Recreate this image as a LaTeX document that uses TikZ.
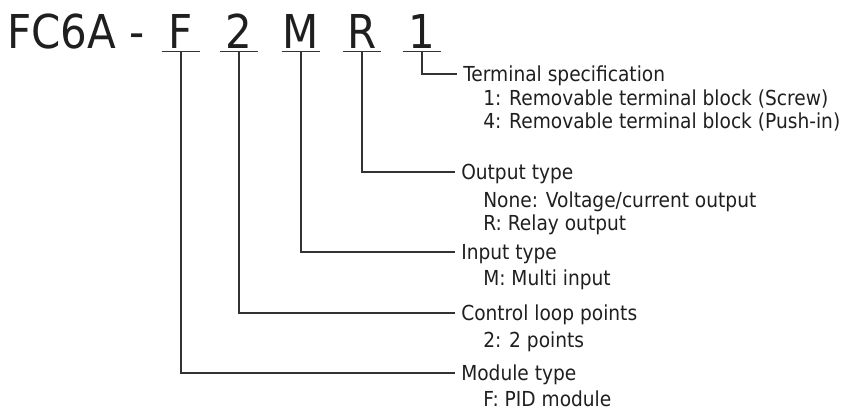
\documentclass[tikz,border=0pt]{standalone}
\usepackage{fontspec}
\setmainfont{DejaVu Sans}[FakeStretch=0.9]
\begin{document}
\begin{tikzpicture}[x=0.75pt,y=-0.75pt,
  conn/.style={draw=black!80, line width=0.9pt},
  big/.style={font=\fontsize{35}{42}\selectfont, text=black!88, inner sep=0pt, text depth=0pt},
  letter/.style={big, minimum width=28.5pt, anchor=base},
  lab/.style={font=\fontsize{15.5}{18}\selectfont, text=black!88, inner xsep=4.5pt, inner ysep=0pt, text height=11.3pt, text depth=0pt, anchor=west},
  sub/.style={font=\fontsize{15.5}{18}\selectfont, text=black!88, inner sep=0pt, anchor=base west}]
\useasboundingbox (0,0) rectangle (853,413);
% title
\node[big, anchor=base west] (fc) at (7,49) {FC6A -};
\node[letter] (lF) at (181,49) {F};
\node[letter] (l2) at (239,49) {2};
\node[letter] (lM) at (301,49) {M};
\node[letter] (lR) at (362,49) {R};
\node[letter] (l1) at (422,49) {1};
\foreach \n in {lF,l2,lM,lR,l1}{
  \draw[conn] ([yshift=-1.5pt]\n.south west) -- ([yshift=-1.5pt]\n.south east);
  \coordinate (u\n) at ([yshift=-1.5pt]\n.south);
}
% labels
\node[lab] (tT) at (457,74) {Terminal specification};
\node[sub] (tT1) at (483,106) {1: Removable terminal block (Screw)};
\node[sub] (tT2) at (483,129) {4: Removable terminal block (Push-in)};
\node[lab] (tO) at (455,172) {Output type};
\node[sub] (tO1) at (483,208) {None: Voltage/current output};
\node[sub] (tO2) at (483,231) {R: Relay output};
\node[lab] (tI) at (455,252) {Input type};
\node[sub] (tI1) at (483,286) {M: Multi input};
\node[lab] (tC) at (455,313) {Control loop points};
\node[sub] (tC1) at (483,347) {2: 2 points};
\node[lab] (tM) at (455,373) {Module type};
\node[sub] (tM1) at (483,406) {F: PID module};
% connectors
\draw[conn] (ul1) |- (tT.west);
\draw[conn] (ulR) |- (tO.west);
\draw[conn] (ulM) |- (tI.west);
\draw[conn] (ul2) |- (tC.west);
\draw[conn] (ulF) |- (tM.west);
\end{tikzpicture}
\end{document}
